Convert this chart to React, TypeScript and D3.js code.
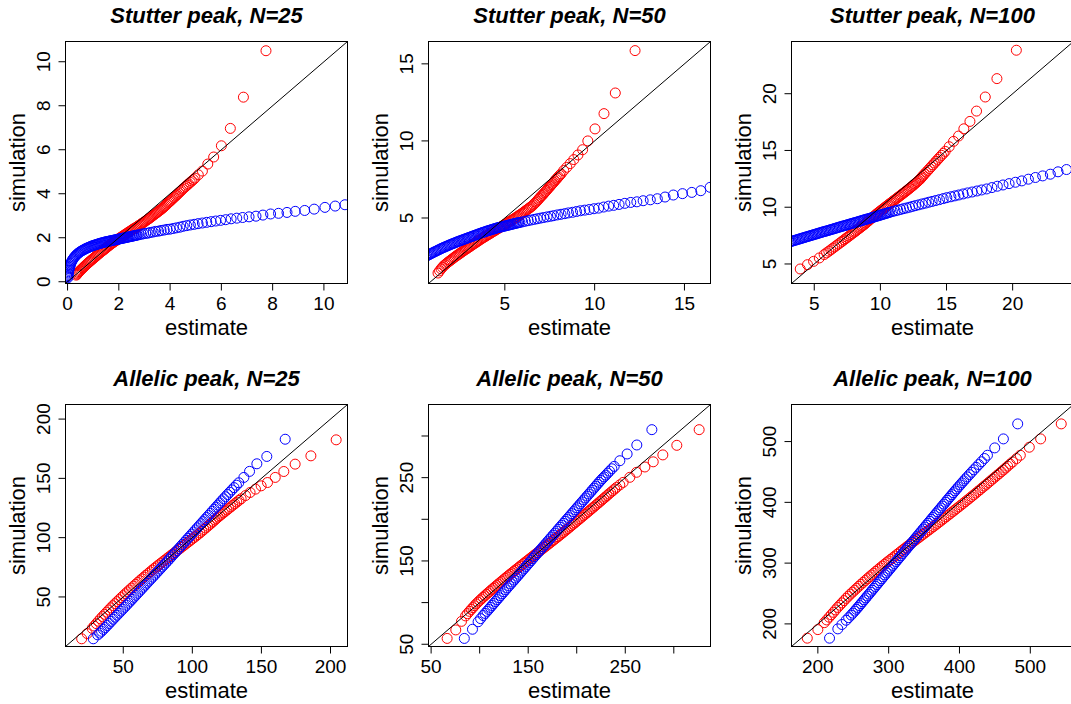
import React from "react";
import * as d3 from "d3";

type Pt = [number, number];

// ---------- layout constants ----------
const W = 1071;
const H = 704;
const colLeft = [65.5, 428.5, 791.5];
const rowTop = [41.5, 404.5];
const PW = 282;
const PH = 242;

// ---------- titles ----------
const titles = [
  "Stutter peak, N=25",
  "Stutter peak, N=50",
  "Stutter peak, N=100",
  "Allelic peak, N=25",
  "Allelic peak, N=50",
  "Allelic peak, N=100",
];

// ---------- axis domains & ticks ----------
const s25Domain: Pt = [-0.08, 10.92];
const s50Domain: Pt = [0.75, 16.45];
const s100Domain: Pt = [3.28, 24.6];
const a25Domain: Pt = [8.2, 212.3];
const a50Domain: Pt = [47.3, 337.8];
const a100Domain: Pt = [162.8, 561];

const s25Ticks = [0, 2, 4, 6, 8, 10];
const s25Labels = ["0", "2", "4", "6", "8", "10"];
const s50Ticks = [5, 10, 15];
const s50Labels = ["5", "10", "15"];
const s100Ticks = [5, 10, 15, 20];
const s100Labels = ["5", "10", "15", "20"];
const a25Ticks = [50, 100, 150, 200];
const a25Labels = ["50", "100", "150", "200"];
const a50Ticks = [50, 100, 150, 200, 250, 300];
const a50Labels = ["50", "", "150", "", "250", ""];
const a100Ticks = [200, 300, 400, 500];
const a100Labels = ["200", "300", "400", "500"];

// ---------- data: [estimate, simulation] ----------
const s25Red: Pt[] = [
  [0.34,0.3],[0.365,0.34],[0.39,0.38],[0.42,0.42],[0.45,0.46],[0.485,0.5],[0.52,0.54],[0.56,0.585],[0.6,0.63],[0.64,0.675],
  [0.68,0.72],[0.725,0.77],[0.77,0.82],[0.815,0.865],[0.86,0.91],[0.905,0.955],[0.95,1.0],[0.995,1.045],[1.04,1.09],[1.085,1.135],
  [1.13,1.18],[1.175,1.225],[1.22,1.27],[1.265,1.315],[1.31,1.36],[1.355,1.4],[1.4,1.44],[1.445,1.48],[1.49,1.52],[1.535,1.565],
  [1.58,1.61],[1.625,1.65],[1.67,1.69],[1.715,1.73],[1.76,1.77],[1.805,1.805],[1.85,1.84],[1.895,1.875],[1.94,1.91],[1.985,1.945],
  [2.03,1.98],[2.075,2.015],[2.12,2.05],[2.165,2.085],[2.21,2.12],[2.255,2.155],[2.3,2.19],[2.345,2.225],[2.39,2.26],[2.435,2.295],
  [2.48,2.33],[2.525,2.365],[2.57,2.4],[2.615,2.43],[2.66,2.46],[2.705,2.495],[2.75,2.53],[2.795,2.565],[2.84,2.6],[2.885,2.635],
  [2.93,2.67],[2.975,2.705],[3.02,2.74],[3.065,2.78],[3.11,2.82],[3.155,2.855],[3.2,2.89],[3.245,2.93],[3.29,2.97],[3.335,3.01],
  [3.38,3.05],[3.425,3.09],[3.47,3.13],[3.515,3.17],[3.56,3.21],[3.605,3.25],[3.65,3.29],[3.695,3.335],[3.74,3.38],[3.785,3.425],
  [3.83,3.47],[3.875,3.525],[3.92,3.58],[3.965,3.625],[4.01,3.67],[4.055,3.72],[4.1,3.77],[4.15,3.825],[4.2,3.88],[4.245,3.93],
  [4.29,3.98],[4.34,4.035],[4.39,4.09],[4.44,4.15],[4.49,4.21],[4.55,4.27],[4.61,4.33],[4.665,4.39],[4.72,4.45],[4.785,4.515],
  [4.85,4.58],[4.91,4.645],[4.97,4.71],[5.1,4.86],[5.26,5.03],[5.47,5.35],[5.7,5.67],[6.0,6.18],[6.35,6.97],[6.86,8.39],
  [7.74,10.5],
];
const s25Blue: Pt[] = [
  [0.01,0.18],[0.015,0.23],[0.02,0.28],[0.025,0.34],[0.03,0.4],[0.04,0.46],[0.05,0.52],[0.065,0.585],[0.08,0.65],[0.095,0.715],
  [0.11,0.78],[0.13,0.84],[0.15,0.9],[0.175,0.955],[0.2,1.01],[0.23,1.06],[0.26,1.11],[0.295,1.155],[0.33,1.2],[0.365,1.24],
  [0.4,1.28],[0.44,1.315],[0.48,1.35],[0.52,1.38],[0.56,1.41],[0.6,1.435],[0.64,1.46],[0.68,1.485],[0.72,1.51],[0.76,1.53],
  [0.8,1.55],[0.84,1.57],[0.88,1.59],[0.92,1.61],[0.96,1.63],[1.0,1.645],[1.04,1.66],[1.08,1.675],[1.12,1.69],[1.16,1.705],
  [1.2,1.72],[1.24,1.735],[1.28,1.75],[1.32,1.76],[1.36,1.77],[1.4,1.785],[1.44,1.8],[1.48,1.81],[1.52,1.82],[1.56,1.83],
  [1.6,1.84],[1.64,1.85],[1.68,1.86],[1.72,1.87],[1.76,1.88],[1.8,1.89],[1.84,1.9],[1.88,1.91],[1.92,1.92],[1.96,1.93],
  [2.0,1.94],[2.04,1.95],[2.08,1.96],[2.12,1.97],[2.16,1.98],[2.2,1.99],[2.24,2.0],[2.28,2.01],[2.32,2.02],[2.36,2.03],
  [2.4,2.04],[2.44,2.05],[2.48,2.06],[2.52,2.07],[2.56,2.08],[2.6,2.09],[2.64,2.1],[2.68,2.11],[2.72,2.12],[2.8,2.14],
  [2.88,2.16],[2.96,2.18],[3.05,2.2],[3.14,2.21],[3.23,2.24],[3.34,2.26],[3.44,2.29],[3.55,2.3],[3.65,2.33],[3.77,2.35],
  [3.88,2.38],[4.0,2.39],[4.12,2.42],[4.25,2.45],[4.38,2.48],[4.51,2.52],[4.65,2.55],[4.79,2.58],[4.94,2.61],[5.09,2.64],
  [5.26,2.67],[5.43,2.7],[5.6,2.73],[5.78,2.76],[5.97,2.79],[6.17,2.82],[6.38,2.86],[6.6,2.89],[6.83,2.92],[7.08,2.95],
  [7.35,2.98],[7.62,3.03],[7.92,3.08],[8.23,3.11],[8.56,3.15],[8.88,3.2],[9.25,3.24],[9.62,3.3],[10.04,3.38],[10.44,3.44],
  [10.82,3.5],
];

const s50Red: Pt[] = [
  [1.28,1.43],[1.365,1.57],[1.45,1.7],[1.525,1.8],[1.6,1.9],[1.675,1.975],[1.75,2.05],[1.82,2.115],[1.89,2.18],[1.96,2.24],
  [2.03,2.3],[2.1,2.365],[2.17,2.43],[2.24,2.49],[2.31,2.55],[2.38,2.605],[2.45,2.66],[2.52,2.72],[2.59,2.78],[2.66,2.835],
  [2.73,2.89],[2.8,2.945],[2.87,3.0],[2.94,3.055],[3.01,3.11],[3.08,3.165],[3.15,3.22],[3.22,3.275],[3.29,3.33],[3.36,3.385],
  [3.43,3.44],[3.5,3.495],[3.57,3.55],[3.64,3.605],[3.71,3.66],[3.78,3.71],[3.85,3.76],[3.92,3.81],[3.99,3.86],[4.06,3.91],
  [4.13,3.96],[4.2,4.01],[4.27,4.06],[4.34,4.11],[4.41,4.16],[4.48,4.21],[4.55,4.26],[4.62,4.31],[4.69,4.36],[4.76,4.41],
  [4.83,4.46],[4.9,4.51],[4.97,4.56],[5.04,4.61],[5.11,4.66],[5.18,4.71],[5.25,4.76],[5.32,4.81],[5.39,4.86],[5.46,4.91],
  [5.53,4.96],[5.6,5.015],[5.67,5.07],[5.74,5.125],[5.81,5.18],[5.88,5.235],[5.95,5.29],[6.02,5.35],[6.09,5.41],[6.16,5.47],
  [6.23,5.53],[6.3,5.59],[6.37,5.65],[6.44,5.71],[6.51,5.77],[6.585,5.855],[6.66,5.94],[6.73,6.025],[6.8,6.11],[6.865,6.2],
  [6.93,6.29],[7.0,6.375],[7.07,6.46],[7.135,6.545],[7.2,6.63],[7.265,6.715],[7.33,6.8],[7.395,6.89],[7.46,6.98],[7.525,7.065],
  [7.59,7.15],[7.655,7.235],[7.72,7.32],[7.785,7.41],[7.85,7.5],[7.915,7.585],[7.98,7.67],[8.055,7.765],[8.13,7.86],[8.28,8.08],
  [8.45,8.29],[8.64,8.53],[8.84,8.79],[9.07,9.09],[9.33,9.43],[9.62,10.0],[10.02,10.78],[10.52,11.77],[11.15,13.11],[12.25,15.86],
];
const s50Blue: Pt[] = [
  [0.5,2.4],[0.58,2.48],[0.66,2.55],[0.73,2.59],[0.8,2.63],[0.87,2.675],[0.94,2.72],[1.01,2.76],[1.08,2.8],[1.15,2.84],
  [1.22,2.88],[1.29,2.92],[1.36,2.96],[1.43,3.0],[1.5,3.04],[1.57,3.075],[1.64,3.11],[1.71,3.145],[1.78,3.18],[1.85,3.215],
  [1.92,3.25],[1.99,3.285],[2.06,3.32],[2.13,3.35],[2.2,3.38],[2.27,3.415],[2.34,3.45],[2.41,3.48],[2.48,3.51],[2.55,3.54],
  [2.62,3.57],[2.69,3.6],[2.76,3.63],[2.83,3.66],[2.9,3.69],[2.97,3.72],[3.04,3.75],[3.11,3.78],[3.18,3.81],[3.25,3.84],
  [3.32,3.87],[3.39,3.9],[3.46,3.93],[3.53,3.96],[3.6,3.99],[3.67,4.02],[3.74,4.05],[3.81,4.075],[3.88,4.1],[3.95,4.13],
  [4.02,4.16],[4.09,4.185],[4.16,4.21],[4.23,4.235],[4.3,4.26],[4.37,4.285],[4.44,4.31],[4.51,4.335],[4.58,4.36],[4.65,4.38],
  [4.72,4.4],[4.79,4.42],[4.86,4.44],[4.93,4.46],[5.0,4.48],[5.07,4.5],[5.14,4.52],[5.21,4.54],[5.28,4.56],[5.35,4.58],
  [5.42,4.6],[5.49,4.62],[5.56,4.64],[5.63,4.66],[5.7,4.68],[5.77,4.695],[5.84,4.71],[5.99,4.75],[6.14,4.79],[6.3,4.83],
  [6.47,4.87],[6.64,4.91],[6.81,4.95],[6.98,4.99],[7.16,5.03],[7.35,5.07],[7.54,5.11],[7.72,5.15],[7.93,5.2],[8.13,5.24],
  [8.34,5.28],[8.54,5.33],[8.77,5.37],[8.99,5.42],[9.21,5.47],[9.45,5.51],[9.7,5.55],[9.96,5.6],[10.22,5.64],[10.5,5.71],
  [10.78,5.77],[11.06,5.82],[11.36,5.88],[11.68,5.95],[12.01,6.01],[12.35,6.05],[12.7,6.12],[13.1,6.18],[13.49,6.25],[13.92,6.36],
  [14.38,6.49],[14.89,6.58],[15.41,6.66],[15.91,6.77],[16.43,6.99],
];

const s100Red: Pt[] = [
  [3.94,4.56],[4.49,4.94],[4.95,5.23],[5.38,5.53],[5.75,5.83],[5.93,5.98],[6.1,6.12],[6.25,6.25],[6.4,6.38],[6.55,6.51],
  [6.7,6.64],[6.85,6.77],[7.0,6.9],[7.125,7.01],[7.25,7.12],[7.375,7.23],[7.5,7.34],[7.625,7.45],[7.75,7.56],[7.875,7.67],
  [8.0,7.78],[8.1,7.87],[8.2,7.96],[8.3,8.05],[8.4,8.14],[8.5,8.23],[8.6,8.32],[8.7,8.41],[8.8,8.5],[8.9,8.6],
  [9.0,8.7],[9.1,8.8],[9.2,8.9],[9.3,9.0],[9.4,9.1],[9.5,9.2],[9.6,9.3],[9.7,9.395],[9.8,9.49],[9.9,9.58],
  [10.0,9.67],[10.1,9.76],[10.2,9.85],[10.3,9.94],[10.4,10.03],[10.5,10.12],[10.6,10.21],[10.7,10.3],[10.8,10.39],[10.9,10.48],
  [11.0,10.57],[11.1,10.66],[11.2,10.75],[11.3,10.84],[11.4,10.93],[11.5,11.02],[11.6,11.11],[11.7,11.2],[11.8,11.29],[11.9,11.38],
  [12.0,11.47],[12.1,11.565],[12.2,11.66],[12.3,11.755],[12.4,11.85],[12.5,11.95],[12.6,12.05],[12.7,12.15],[12.8,12.25],[12.9,12.36],
  [13.0,12.47],[13.075,12.575],[13.15,12.68],[13.24,12.8],[13.33,12.92],[13.46,13.08],[13.59,13.24],[13.715,13.405],[13.84,13.57],[13.965,13.73],
  [14.09,13.89],[14.215,14.05],[14.34,14.21],[14.48,14.39],[14.62,14.57],[14.76,14.745],[14.9,14.92],[15.2,15.33],[15.53,15.8],[15.91,16.27],
  [16.31,16.91],[16.77,17.56],[17.27,18.47],[17.93,19.71],[18.81,21.33],[20.28,23.83],
];
const s100Blue: Pt[] = [
  [3.1,6.93],[3.2,6.965],[3.3,7.0],[3.4,7.035],[3.5,7.07],[3.6,7.105],[3.7,7.14],[3.8,7.175],[3.9,7.21],[4.0,7.245],
  [4.1,7.28],[4.2,7.315],[4.3,7.35],[4.4,7.385],[4.5,7.42],[4.6,7.455],[4.7,7.49],[4.8,7.525],[4.9,7.56],[5.0,7.595],
  [5.1,7.63],[5.2,7.665],[5.3,7.7],[5.4,7.735],[5.5,7.77],[5.6,7.805],[5.7,7.84],[5.8,7.87],[5.9,7.9],[6.0,7.935],
  [6.1,7.97],[6.2,8.005],[6.3,8.04],[6.4,8.075],[6.5,8.11],[6.6,8.145],[6.7,8.18],[6.8,8.215],[6.9,8.25],[7.0,8.285],
  [7.1,8.32],[7.2,8.35],[7.3,8.38],[7.4,8.415],[7.5,8.45],[7.6,8.485],[7.7,8.52],[7.8,8.555],[7.9,8.59],[8.0,8.62],
  [8.1,8.65],[8.2,8.685],[8.3,8.72],[8.4,8.755],[8.5,8.79],[8.6,8.825],[8.7,8.86],[8.8,8.895],[8.9,8.93],[9.0,8.96],
  [9.1,8.99],[9.2,9.025],[9.3,9.06],[9.4,9.095],[9.5,9.13],[9.6,9.165],[9.7,9.2],[9.8,9.235],[9.9,9.27],[10.0,9.305],
  [10.1,9.34],[10.2,9.375],[10.3,9.41],[10.4,9.445],[10.5,9.48],[10.6,9.515],[10.71,9.55],[10.91,9.62],[11.11,9.68],[11.31,9.74],
  [11.52,9.8],[11.74,9.87],[11.97,9.93],[12.2,10.0],[12.42,10.07],[12.65,10.14],[12.9,10.21],[13.16,10.29],[13.41,10.36],[13.66,10.44],
  [13.91,10.51],[14.19,10.59],[14.47,10.67],[14.75,10.76],[15.02,10.84],[15.33,10.92],[15.63,11.0],[15.93,11.08],[16.26,11.17],[16.59,11.26],
  [16.94,11.34],[17.3,11.43],[17.65,11.52],[18.03,11.61],[18.43,11.73],[18.84,11.85],[19.27,11.96],[19.73,12.08],[20.21,12.2],[20.69,12.32],
  [21.19,12.47],[21.72,12.62],[22.27,12.76],[22.85,12.91],[23.43,13.12],[24.07,13.32],
];

const a25Red: Pt[] = [
  [19.9,14.7],[23.9,19.1],[27.5,23.5],[29,25.5],[30.5,27.5],[32,29.5],[33.5,31.5],[35,33.4],[36.5,35.3],[38,37.15],
  [39.5,39.0],[41,40.8],[42.5,42.6],[44,44.3],[45.5,46.0],[47,47.7],[48.5,49.4],[50,51.05],[51.5,52.7],[53,54.3],
  [54.5,55.9],[56,57.5],[57.5,59.1],[59,60.65],[60.5,62.2],[62,63.75],[63.5,65.3],[65,66.8],[66.5,68.3],[68,69.75],
  [69.5,71.2],[71,72.65],[72.5,74.1],[74,75.5],[75.5,76.9],[77,78.25],[78.5,79.6],[80,80.95],[81.5,82.3],[83,83.65],
  [84.5,85.0],[86,86.35],[87.5,87.7],[89,89.05],[90.5,90.4],[92,91.75],[93.5,93.1],[95,94.45],[96.5,95.8],[98,97.15],
  [99.5,98.5],[101,99.85],[102.5,101.2],[104,102.6],[105.5,104.0],[106.9,105.4],[108.3,106.8],[109.7,108.2],[111.1,109.6],[112.45,110.95],
  [113.8,112.3],[115.05,113.6],[116.3,114.9],[117.5,116.15],[118.7,117.4],[119.9,118.55],[121.1,119.7],[122.4,120.9],[123.7,122.1],[125.05,123.35],
  [126.4,124.6],[127.85,125.95],[129.3,127.3],[130.75,128.65],[132.2,130.0],[133.75,131.4],[135.3,132.8],[138.5,135.5],[141.8,138.1],[145.7,140.9],
  [149.8,143.7],[154.4,146.5],[160.0,150.8],[166.2,155.8],[174.4,162.0],[185.8,169.0],[204.1,182.5],
];
const a25Blue: Pt[] = [
  [28.3,14.7],[31.5,18.0],[32.9,19.5],[34.3,21.0],[35.65,22.6],[37.0,24.2],[38.4,25.9],[39.8,27.6],[41.25,29.4],[42.7,31.2],
  [44.1,32.9],[45.5,34.6],[46.9,36.3],[48.3,38.0],[49.65,39.65],[51.0,41.3],[52.35,43.0],[53.7,44.7],[55.05,46.35],[56.4,48.0],
  [57.75,49.7],[59.1,51.4],[60.45,53.1],[61.8,54.8],[63.15,56.5],[64.5,58.2],[65.85,59.9],[67.2,61.6],[68.55,63.3],[69.9,65.0],
  [71.25,66.7],[72.6,68.4],[73.95,70.1],[75.3,71.8],[76.65,73.5],[78.0,75.2],[79.35,76.9],[80.7,78.6],[82.05,80.3],[83.4,82.0],
  [84.75,83.75],[86.1,85.5],[87.45,87.25],[88.8,89.0],[90.15,90.75],[91.5,92.5],[92.85,94.25],[94.2,96.0],[95.55,97.75],[96.9,99.5],
  [98.25,101.25],[99.6,103.0],[100.95,104.75],[102.3,106.5],[103.65,108.25],[105.0,110.0],[106.35,111.75],[107.7,113.5],[109.05,115.25],[110.4,117.0],
  [111.75,118.75],[113.1,120.5],[114.45,122.25],[115.8,124.0],[117.15,125.75],[118.5,127.5],[119.85,129.25],[121.2,131.0],[122.6,132.75],[124.0,134.5],
  [125.5,136.4],[127.0,138.3],[128.6,140.25],[130.2,142.2],[131.9,144.25],[133.6,146.3],[137.3,150.8],[141.4,155.9],[146.7,162.3],[153.9,168.5],
  [167.2,183.0],
];

const a50Red: Pt[] = [
  [66.5,57.0],[75.4,67.2],[81.3,77.5],[85.5,84.0],[87.5,86.75],[89.5,89.5],[91.25,91.75],[93.0,94.0],[94.75,96.25],[96.5,98.5],
  [98.25,100.5],[100,102.5],[101.75,104.4],[103.5,106.3],[105.25,108.15],[107,110.0],[108.75,111.8],[110.5,113.6],[112.25,115.35],[114,117.1],
  [115.75,118.85],[117.5,120.6],[119.25,122.3],[121,124.0],[122.75,125.7],[124.5,127.4],[126.25,129.1],[128,130.8],[129.75,132.45],[131.5,134.1],
  [133.25,135.75],[135,137.4],[136.75,139.0],[138.5,140.6],[140.25,142.25],[142,143.9],[143.75,145.5],[145.5,147.1],[147.25,148.7],[149,150.3],
  [150.75,151.9],[152.5,153.5],[154.25,155.1],[156,156.7],[157.75,158.3],[159.5,159.9],[161.25,161.45],[163,163.0],[164.75,164.6],[166.5,166.2],
  [168.25,167.8],[170,169.4],[171.75,171.0],[173.5,172.6],[175.25,174.2],[177,175.8],[178.75,177.4],[180.5,179.0],[182.25,180.65],[184,182.3],
  [185.75,183.95],[187.5,185.6],[189.25,187.25],[191,188.9],[192.75,190.6],[194.5,192.3],[196.25,194.0],[198,195.7],[199.75,197.4],[201.5,199.1],
  [203.25,200.8],[205,202.5],[206.75,204.2],[208.5,205.9],[210.25,207.6],[212,209.3],[213.75,211.05],[215.5,212.8],[217.25,214.5],[219,216.2],
  [220.75,217.95],[222.5,219.7],[224.25,221.45],[226,223.2],[227.75,224.95],[229.5,226.7],[231.25,228.5],[233,230.3],[235,232.25],[237,234.2],
  [239,236.25],[241,238.3],[244.4,241.3],[247.8,244.3],[254.7,250.4],[261.6,256.4],[270.2,262.8],[278.8,269.0],[288.7,277.3],[303.1,288.8],
  [326.1,307.6],
];
const a50Blue: Pt[] = [
  [84.2,57.0],[92.6,68.0],[98.4,77.0],[101,80.75],[103.6,84.5],[105.55,87.0],[107.5,89.5],[109.25,91.85],[111,94.2],[112.75,96.55],
  [114.5,98.9],[116.25,101.25],[118,103.6],[119.75,105.95],[121.5,108.3],[123.25,110.65],[125,113.0],[126.75,115.35],[128.5,117.7],[130.25,120.05],
  [132,122.4],[133.75,124.7],[135.5,127.0],[137.25,129.35],[139,131.7],[140.75,134.05],[142.5,136.4],[144.25,138.75],[146,141.1],[147.75,143.45],
  [149.5,145.8],[151.25,148.15],[153,150.5],[154.75,152.85],[156.5,155.2],[158.25,157.55],[160,159.9],[161.75,162.25],[163.5,164.6],[165.25,166.95],
  [167,169.3],[168.75,171.65],[170.5,174.0],[172.25,176.35],[174,178.7],[175.75,181.05],[177.5,183.4],[179.25,185.75],[181,188.1],[182.75,190.45],
  [184.5,192.8],[186.25,195.15],[188,197.5],[189.75,199.8],[191.5,202.1],[193.25,204.45],[195,206.8],[196.75,209.15],[198.5,211.5],[200.25,213.85],
  [202,216.2],[203.75,218.55],[205.5,220.9],[207.25,223.25],[209,225.6],[210.75,227.95],[212.5,230.3],[214.25,232.65],[216,235.0],[217.75,237.35],
  [219.5,239.7],[221.25,242.05],[223,244.4],[224.75,246.65],[226.5,248.9],[228.25,250.95],[230,253.0],[231.9,255.4],[233.8,257.8],[236.2,260.65],
  [238.6,263.5],[244.4,270.3],[251.9,278.4],[261.9,289.2],[277.4,307.6],
];

const a100Red: Pt[] = [
  [185.1,176.5],[200,190.6],[209,202],[212.5,206.5],[216,211],[219,215],[222,219],[225,223],[228,227],[231,230.75],
  [234,234.5],[237,238.25],[240,242],[243,245.5],[246,249],[249,252.25],[252,255.5],[255,258.75],[258,262],[261,265.15],
  [264,268.3],[267,271.4],[270,274.5],[273,277.5],[276,280.5],[279,283.5],[282,286.5],[285,289.4],[288,292.3],[291,295.15],
  [294,298],[297,300.8],[300,303.6],[303,306.3],[306,309],[309,311.75],[312,314.5],[315,317.25],[318,320],[321,322.7],
  [324,325.4],[327,328.1],[330,330.8],[333,333.5],[336,336.2],[339,338.85],[342,341.5],[345,344.15],[348,346.8],[351,349.4],
  [354,352],[357,354.65],[360,357.3],[363,359.95],[366,362.6],[369,365.3],[372,368],[375,370.7],[378,373.4],[381,376.1],
  [384,378.8],[387,381.55],[390,384.3],[393,387.05],[396,389.8],[399,392.55],[402,395.3],[405,398.1],[408,400.9],[411,403.7],
  [414,406.5],[417,409.35],[420,412.2],[423,415.1],[426,418],[429,420.9],[432,423.8],[435,426.7],[438,429.6],[441,432.55],
  [444,435.5],[447,438.45],[450,441.4],[453,444.35],[456,447.3],[459,450.25],[462,453.2],[465,456.35],[468,459.5],[471.5,463],
  [475.1,466.5],[480.5,472],[485.9,477.5],[498.6,490.7],[514.6,504.4],[543.7,529.1],
];
const a100Blue: Pt[] = [
  [216.5,176.5],[228.2,191.8],[234,199],[240,206],[243.5,210.25],[247,214.5],[249.5,217.75],[252,221],[254.25,224],[256.5,227],
  [258.75,230.15],[261,233.3],[263.25,236.45],[265.5,239.6],[267.75,242.75],[270,245.9],[272.25,249.05],[274.5,252.2],[276.75,255.35],[279,258.5],
  [281.25,261.65],[283.5,264.8],[285.75,267.95],[288,271.1],[290.25,274.25],[292.5,277.4],[294.75,280.55],[297,283.7],[299.25,286.85],[301.5,290],
  [303.75,293.15],[306,296.3],[308.25,299.45],[310.5,302.6],[312.75,305.75],[315,308.9],[317.25,312.05],[319.5,315.2],[321.75,318.35],[324,321.5],
  [326.25,324.65],[328.5,327.8],[330.75,330.95],[333,334.1],[335.25,337.25],[337.5,340.4],[339.75,343.55],[342,346.7],[344.25,349.85],[346.5,353],
  [348.75,356.15],[351,359.3],[353.25,362.45],[355.5,365.6],[357.75,368.75],[360,371.9],[362.25,375.05],[364.5,378.2],[366.75,381.35],[369,384.5],
  [371.25,387.65],[373.5,390.8],[375.75,393.95],[378,397.1],[380.25,400.25],[382.5,403.4],[384.75,406.5],[387,409.6],[389.25,412.7],[391.5,415.8],
  [393.75,418.9],[396,422],[398.5,425.35],[401,428.7],[403.5,432],[406,435.3],[408.5,438.55],[411,441.8],[414,445.65],[417,449.5],
  [420.25,453.55],[423.5,457.6],[427.25,462.2],[431,466.8],[435.25,472.15],[439.5,477.5],[449.8,489.6],[462,504.4],[482.2,529.1],
];

// ---------- panel assembly ----------
interface PanelSpec {
  title: string;
  col: number;
  row: number;
  domain: Pt;
  ticks: number[];
  labels: string[];
  red: Pt[];
  blue: Pt[];
}

const panels: PanelSpec[] = [
  { title: titles[0], col: 0, row: 0, domain: s25Domain, ticks: s25Ticks, labels: s25Labels, red: s25Red, blue: s25Blue },
  { title: titles[1], col: 1, row: 0, domain: s50Domain, ticks: s50Ticks, labels: s50Labels, red: s50Red, blue: s50Blue },
  { title: titles[2], col: 2, row: 0, domain: s100Domain, ticks: s100Ticks, labels: s100Labels, red: s100Red, blue: s100Blue },
  { title: titles[3], col: 0, row: 1, domain: a25Domain, ticks: a25Ticks, labels: a25Labels, red: a25Red, blue: a25Blue },
  { title: titles[4], col: 1, row: 1, domain: a50Domain, ticks: a50Ticks, labels: a50Labels, red: a50Red, blue: a50Blue },
  { title: titles[5], col: 2, row: 1, domain: a100Domain, ticks: a100Ticks, labels: a100Labels, red: a100Red, blue: a100Blue },
];

const FONT = "'Liberation Sans', Arial, Helvetica, sans-serif";
const R = 5;

function Panel({ spec, idx }: { spec: PanelSpec; idx: number }) {
  const x0 = colLeft[spec.col];
  const y0 = rowTop[spec.row];
  const x = d3.scaleLinear().domain(spec.domain).range([x0, x0 + PW]);
  const y = d3.scaleLinear().domain(spec.domain).range([y0 + PH, y0]);
  const clipId = `plotclip-${idx}`;
  const cx = x0 + PW / 2;
  const cy = y0 + PH / 2;
  const bottom = y0 + PH;
  return (
    <g>
      <defs>
        <clipPath id={clipId}>
          <rect x={x0} y={y0} width={PW} height={PH} />
        </clipPath>
      </defs>
      <g clipPath={`url(#${clipId})`}>
        {spec.red.map(([a, b], i) => (
          <circle key={"r" + i} cx={x(a)} cy={y(b)} r={R} fill="none" stroke="#FF0000" strokeWidth={1} />
        ))}
        {spec.blue.map(([a, b], i) => (
          <circle key={"b" + i} cx={x(a)} cy={y(b)} r={R} fill="none" stroke="#0000FF" strokeWidth={1} />
        ))}
        <line
          x1={x(spec.domain[0])}
          y1={y(spec.domain[0])}
          x2={x(spec.domain[1])}
          y2={y(spec.domain[1])}
          stroke="#000"
          strokeWidth={1}
        />
      </g>
      <rect x={x0} y={y0} width={PW} height={PH} fill="none" stroke="#000" strokeWidth={1} />
      {spec.ticks.map((t, i) => (
        <g key={"xt" + i}>
          <line x1={x(t)} x2={x(t)} y1={bottom} y2={bottom + 7} stroke="#000" strokeWidth={1} />
          {spec.labels[i] && (
            <text x={x(t)} y={bottom + 26.7} textAnchor="middle" fontSize={19} fontFamily={FONT} fill="#000">
              {spec.labels[i]}
            </text>
          )}
        </g>
      ))}
      {spec.ticks.map((t, i) => (
        <g key={"yt" + i}>
          <line x1={x0} x2={x0 - 7} y1={y(t)} y2={y(t)} stroke="#000" strokeWidth={1} />
          {spec.labels[i] && (
            <text
              transform={`translate(${x0 - 16},${y(t)}) rotate(-90)`}
              textAnchor="middle"
              fontSize={19}
              fontFamily={FONT}
              fill="#000"
            >
              {spec.labels[i]}
            </text>
          )}
        </g>
      ))}
      <text x={cx} y={bottom + 51.5} textAnchor="middle" fontSize={22} fontFamily={FONT} fill="#000">
        estimate
      </text>
      <text
        transform={`translate(${x0 - 41},${cy}) rotate(-90)`}
        textAnchor="middle"
        fontSize={22}
        fontFamily={FONT}
        fill="#000"
      >
        simulation
      </text>
      <text
        x={cx}
        y={y0 - 19}
        textAnchor="middle"
        fontSize={22}
        fontWeight="bold"
        fontStyle="italic"
        fontFamily={FONT}
        fill="#000"
      >
        {spec.title}
      </text>
    </g>
  );
}

export default function App() {
  return (
    <div style={{ position: "absolute", left: 0, top: 0, width: W, height: H, background: "#fff" }}>
      <svg width={W} height={H} viewBox={`0 0 ${W} ${H}`} style={{ display: "block" }}>
        <rect x={0} y={0} width={W} height={H} fill="#fff" />
        {panels.map((p, i) => (
          <Panel key={i} spec={p} idx={i} />
        ))}
      </svg>
    </div>
  );
}
